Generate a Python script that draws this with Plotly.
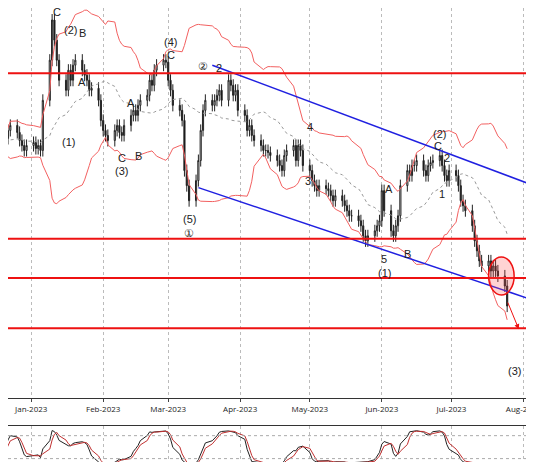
import plotly.graph_objects as go
import pandas as pd
import numpy as np

closes = [260,252,250,255,262,270,275,268,260,255,250,
          255,258,252,255,250,300,340,
          380,360,340,320,310,
          330,320,335,340,330,325,320,310,312,
          300,280,270,265,260,270,275,268,
          265,275,285,290,285,295,300,
          305,320,315,330,335,340,338,
          320,310,295,290,280,230,215,
          200,220,240,270,290,300,295,300,
          305,310,300,320,315,305,310,290,
          285,270,275,265,260,255,250,250,248,
          245,240,235,230,245,250,255,240,
          255,250,235,230,220,215,210,215,212,
          210,205,200,205,200,195,190,185,
          185,180,175,165,160,165,170,175,
          180,210,190,170,165,175,185,215,
          230,225,235,235,240,230,225,235,238,
          240,245,235,225,220,230,225,215,
          200,195,190,175,160,150,140,135,
          140,130,135,130,125,115,95]
hlines = [327, 162, 123, 73]
chan_upper_x = ["2023-03-20", "2023-08-09"]; chan_upper_y = [335, 212]
chan_lower_x = ["2023-03-14", "2023-08-09"]; chan_lower_y = [213, 98]
labels = [("2023-01-12",388,"C"),("2023-01-18",370,"(2)"),("2023-01-23",367,"B"),("2023-01-17",258,"(1)"),
          ("2023-01-23",318,"A"),("2023-02-09",243,"C"),("2023-02-09",230,"(3)"),("2023-02-16",245,"B"),
          ("2023-02-13",297,"A"),("2023-03-02",358,"(4)"),("2023-03-02",345,"C"),("2023-03-10",182,"(5)"),
          ("2023-03-10",168,"①"),("2023-03-16",334,"②"),("2023-03-23",332,"2"),("2023-05-01",273,"4"),
          ("2023-04-30",220,"3"),("2023-06-02",142,"5"),("2023-06-02",128,"(1)"),("2023-06-04",212,"A"),
          ("2023-06-12",147,"B"),("2023-06-26",266,"(2)"),("2023-06-25",254,"C"),("2023-06-29",243,"2"),
          ("2023-06-27",207,"1"),("2023-07-28",30,"(3)")]

dates = pd.bdate_range(end="2023-07-25", periods=len(closes))
c = np.array(closes, float)
o = np.r_[c[0], c[:-1]]
hi = np.maximum(o, c) + 6; lo = np.minimum(o, c) - 6
s = pd.Series(c)
ma = s.rolling(20, min_periods=1).mean(); sd = s.rolling(20, min_periods=1).std().fillna(0)
hh = pd.Series(hi).rolling(14, min_periods=1).max(); ll = pd.Series(lo).rolling(14, min_periods=1).min()
k = ((s-ll)/(hh-ll)*100).rolling(3, min_periods=1).mean(); d = k.rolling(3, min_periods=1).mean()

fig = go.Figure()
fig.add_trace(go.Scatter(x=dates, y=ma+2*sd, mode="lines", line=dict(color="#f26060", width=1)))
fig.add_trace(go.Scatter(x=dates, y=ma-2*sd, mode="lines", line=dict(color="#f26060", width=1)))
fig.add_trace(go.Scatter(x=dates, y=ma, mode="lines", line=dict(color="#999", width=1, dash="dot")))
fig.add_trace(go.Candlestick(x=dates, open=o, high=hi, low=lo, close=c,
    increasing=dict(line=dict(color="#222", width=1), fillcolor="white"),
    decreasing=dict(line=dict(color="#222", width=1), fillcolor="#111"), whiskerwidth=0))
fig.add_trace(go.Scatter(x=chan_upper_x, y=chan_upper_y, mode="lines", line=dict(color="#2020e0", width=1.5)))
fig.add_trace(go.Scatter(x=chan_lower_x, y=chan_lower_y, mode="lines", line=dict(color="#2020e0", width=1.5)))
fig.add_trace(go.Scatter(x=dates, y=k, mode="lines", line=dict(color="#222", width=1), xaxis="x2", yaxis="y2"))
fig.add_trace(go.Scatter(x=dates, y=d, mode="lines", line=dict(color="#c03030", width=1), xaxis="x2", yaxis="y2"))
for h in hlines:
    fig.add_hline(y=h, line=dict(color="#ee1111", width=2), yref="y")
for x, y, t in labels:
    fig.add_annotation(x=x, y=y, text=t, showarrow=False, font=dict(size=11, color="#222", family="Arial"))
fig.add_shape(type="circle", xref="x", yref="y", x0="2023-07-17", x1="2023-07-28", y0=106, y1=144,
              line=dict(color="#ee1111", width=1.5), fillcolor="rgba(255,80,80,0.25)")
fig.add_annotation(x="2023-07-30", y=72, ax="2023-07-25", ay=100, xref="x", yref="y", axref="x", ayref="y",
                   showarrow=True, arrowhead=2, arrowcolor="#ee1111", arrowwidth=1, text="")
fig.add_hline(y=20, line=dict(color="#aaa", width=1, dash="dot"), yref="y2")
fig.add_hline(y=80, line=dict(color="#aaa", width=1, dash="dot"), yref="y2")
xr = ["2022-12-22", "2023-08-09"]
fig.update_layout(width=534, height=462, margin=dict(l=0, r=0, t=0, b=0), showlegend=False,
    plot_bgcolor="white", paper_bgcolor="white",
    xaxis=dict(range=xr, rangeslider=dict(visible=False), showgrid=True,
               gridcolor="#bbb", griddash="dot", dtick="M1", tickformat="%b-%Y", ticks="outside", ticklen=3,
               tickfont=dict(size=8, color="#222"), anchor="y", showline=True, linecolor="#333", mirror=True),
    xaxis2=dict(range=xr, showgrid=True, gridcolor="#bbb", griddash="dot", dtick="M1", showticklabels=False,
                anchor="y2", showline=True, linecolor="#333", mirror=True),
    yaxis=dict(domain=[0.155, 1], range=[3, 392], showticklabels=False, showgrid=False,
               showline=True, linecolor="#333", mirror=True),
    yaxis2=dict(domain=[0.004, 0.095], range=[-5, 105], showticklabels=False, showgrid=False,
                showline=True, linecolor="#333", mirror=True))
fig.write_html("out.html")
